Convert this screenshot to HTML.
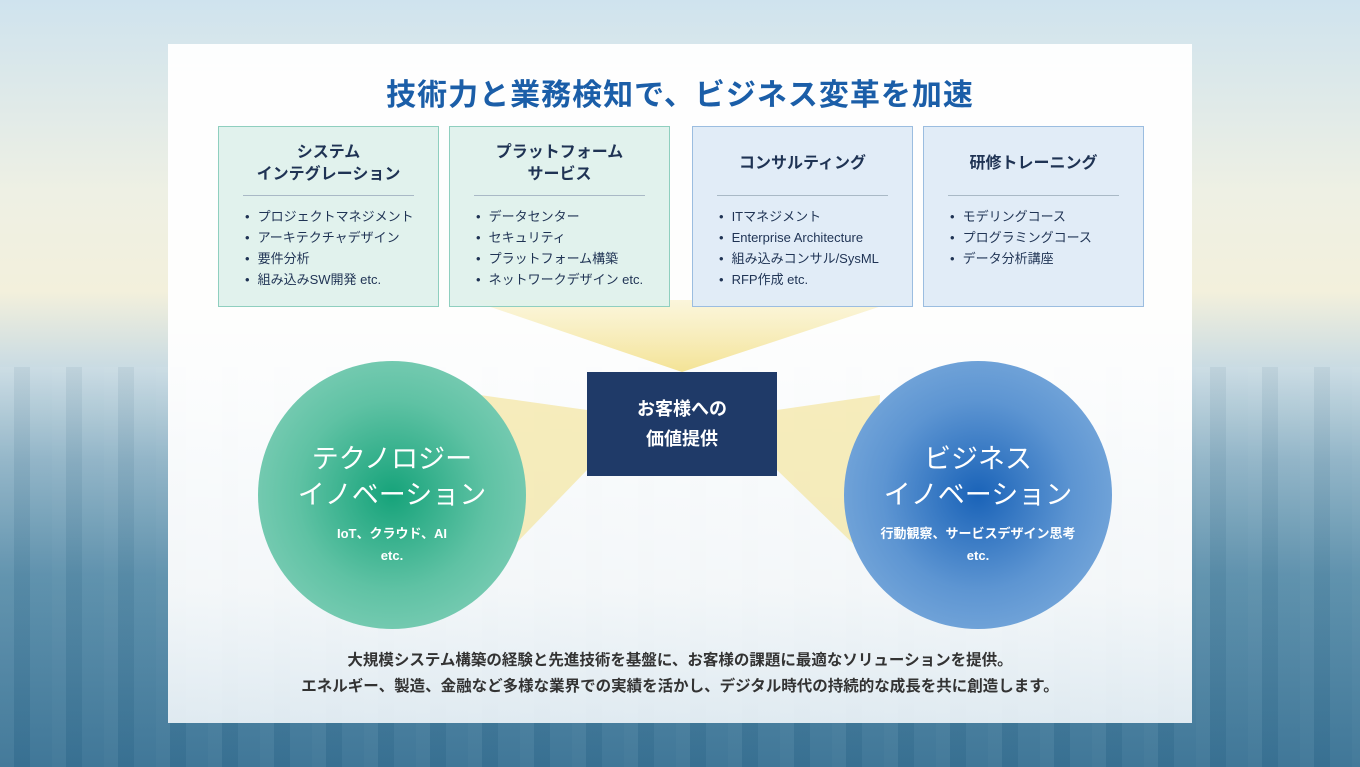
<!DOCTYPE html>
<html><head><meta charset="utf-8"><style>
*{margin:0;padding:0;box-sizing:border-box}
body{width:1360px;height:767px;overflow:hidden;position:relative;font-family:"Liberation Sans","Noto Sans CJK JP",sans-serif;
background:linear-gradient(180deg,#cfe3ee 0%,#eef0e4 25%,#f3f0dc 38%,#c9dbe3 48%,#8fb3c6 60%,#5b8fab 75%,#3a7395 100%);}
.city{position:absolute;left:0;right:0;bottom:0;height:400px;background:
repeating-linear-gradient(90deg,rgba(255,255,255,.05) 0 14px,rgba(20,60,90,.06) 14px 30px,rgba(255,255,255,.03) 30px 52px);}
.panel{position:absolute;left:168px;top:44px;width:1024px;height:679px;background:linear-gradient(180deg,rgba(255,255,255,.96) 0%,rgba(255,255,255,.93) 80%,rgba(240,246,250,.9) 100%)}
h1{position:absolute;left:168px;width:1024px;top:70px;text-align:center;font-size:30px;color:#1b5ea8;font-weight:bold;letter-spacing:1px}
.card{position:absolute;top:126px;width:221px;height:181px;border:1px solid #8fcfbf;background:rgba(222,241,236,.92)}
.card.b{border-color:#9bbde0;background:rgba(222,234,246,.92)}
.ct{height:68px;padding-top:6px;display:flex;align-items:center;justify-content:center;text-align:center;font-weight:bold;font-size:16px;color:#1f3354;line-height:22px}
.hr{margin:0 24px;border-top:1px solid #a9b9c6}
ul{list-style:none;margin:10px 0 0 26px;font-size:13px;color:#1f3354;line-height:21px}
li:before{content:"•";margin-right:8px}
.box{position:absolute;left:587px;top:372px;width:190px;height:104px;background:#1f3a68;color:#fff;font-weight:bold;font-size:18px;line-height:30px;display:flex;align-items:center;justify-content:center;text-align:center}
.circ{position:absolute;width:268px;height:268px;border-radius:50%;color:#fff;text-align:center}
.c1{left:258px;top:361px;background:radial-gradient(circle,#16a37a 0%,#5fc2a4 50%,#8fd4c0 100%)}
.c2{left:844px;top:361px;background:radial-gradient(circle,#1a63b8 0%,#5d95d2 50%,#88b4e0 100%)}
.big{font-size:27px;line-height:36px;margin-top:80px}
.sm{font-size:13px;font-weight:bold;line-height:22px;margin-top:10px}
.foot{position:absolute;left:168px;width:1024px;top:648px;text-align:center;font-size:15.5px;line-height:26px;color:#333;font-weight:bold}
</style></head><body>
<div class="city"></div>
<div class="panel"></div>
<svg style="position:absolute;left:0;top:0" width="1360" height="767">
<defs><linearGradient id="y" x1="0" y1="0" x2="0" y2="1"><stop offset="0" stop-color="#f6e9a8" stop-opacity=".4"/><stop offset="1" stop-color="#f3e08a" stop-opacity=".9"/></linearGradient></defs>
<polygon points="470,300 900,300 682,372" fill="url(#y)"/>
<polygon points="480,395 587,410 587,470 500,560" fill="#f4e6a0" opacity=".7"/>
<polygon points="880,395 777,410 777,470 870,560" fill="#f4e6a0" opacity=".7"/>
</svg>
<h1>技術力と業務検知で、ビジネス変革を加速</h1>
<div class="card" style="left:218px"><div class="ct">システム<br>インテグレーション</div><div class="hr"></div><ul><li>プロジェクトマネジメント</li><li>アーキテクチャデザイン</li><li>要件分析</li><li>組み込みSW開発 etc.</li></ul></div>
<div class="card" style="left:449px"><div class="ct">プラットフォーム<br>サービス</div><div class="hr"></div><ul><li>データセンター</li><li>セキュリティ</li><li>プラットフォーム構築</li><li>ネットワークデザイン etc.</li></ul></div>
<div class="card b" style="left:692px"><div class="ct">コンサルティング</div><div class="hr"></div><ul><li>ITマネジメント</li><li>Enterprise Architecture</li><li>組み込みコンサル/SysML</li><li>RFP作成 etc.</li></ul></div>
<div class="card b" style="left:923px"><div class="ct">研修トレーニング</div><div class="hr"></div><ul><li>モデリングコース</li><li>プログラミングコース</li><li>データ分析講座</li></ul></div>
<div class="box">お客様への<br>価値提供</div>
<div class="circ c1"><div class="big">テクノロジー<br>イノベーション</div><div class="sm">IoT、クラウド、AI<br>etc.</div></div>
<div class="circ c2"><div class="big">ビジネス<br>イノベーション</div><div class="sm">行動観察、サービスデザイン思考<br>etc.</div></div>
<div class="foot">大規模システム構築の経験と先進技術を基盤に、お客様の課題に最適なソリューションを提供。<br>エネルギー、製造、金融など多様な業界での実績を活かし、デジタル時代の持続的な成長を共に創造します。</div>
</body></html>
